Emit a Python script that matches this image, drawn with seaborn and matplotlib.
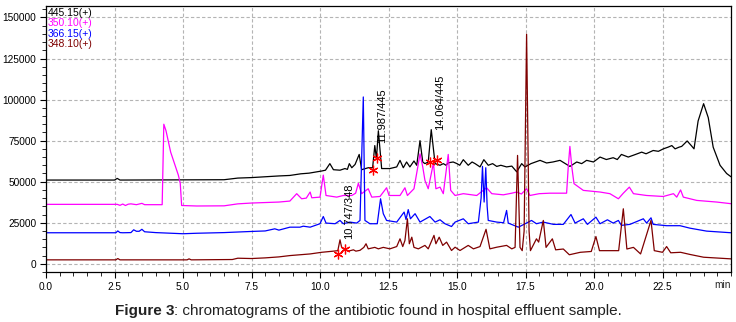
import numpy as np
import pandas as pd
import matplotlib
matplotlib.use("Agg")
import matplotlib.pyplot as plt
import seaborn as sns
from matplotlib.ticker import MultipleLocator, FixedLocator, FuncFormatter

# ---------------- data ----------------
series_names = ["445.15(+)", "350.10(+)", "366.15(+)", "348.10(+)"]
series_colors = ["#000000", "#ff00ff", "#0000ff", "#7f0000"]

t_445 = [0, 2.5, 2.6, 2.7, 6.5, 6.8, 7.0, 7.5, 8.0, 8.5, 8.9, 9.3, 9.6, 10.06, 10.2, 10.36,
         10.49, 10.73, 10.91, 11.0, 11.07, 11.16, 11.28, 11.43, 11.52, 11.76, 11.92, 12.0,
         12.06, 12.13, 12.25, 12.55, 12.8, 12.92, 13.04, 13.16, 13.28, 13.43, 13.53, 13.65,
         13.75, 13.83, 13.95, 14.06, 14.2, 14.38, 14.5, 14.6, 14.68, 14.86, 15.0, 15.1, 15.23,
         15.41, 15.55, 15.66, 15.84, 15.98, 16.14, 16.3, 16.45, 16.6, 16.81, 17.0, 17.18,
         17.36, 17.48, 17.7, 18.03, 18.27, 18.5, 18.76, 19.12, 19.37, 19.55, 19.73, 19.98,
         20.22, 20.45, 20.7, 20.85, 21.0, 21.25, 21.5, 21.74, 21.9, 22.16, 22.35, 22.53, 22.7,
         22.84, 22.96, 23.1, 23.2, 23.4, 23.55, 23.65, 23.8, 24.0, 24.17, 24.35, 24.6, 24.84, 25.0]
v_445 = [51000, 51000, 52000, 51000, 51200, 51800, 52200, 52500, 53000, 53500, 53800, 54800,
         55200, 56500, 57000, 61000, 57300, 57000, 58000, 57500, 61000, 58500, 60500, 66600,
         57300, 58500, 58500, 72000, 64000, 81000, 58000, 58000, 59000, 63000, 58500, 62000,
         59000, 62600, 60000, 75000, 62000, 61000, 62000, 81700, 61000, 60000, 61000, 60000,
         61500, 62000, 61000, 60000, 63400, 60000, 62000, 61000, 59000, 63400, 60000, 61000,
         59300, 60000, 59000, 59500, 56000, 61000, 59000, 61000, 63000, 61400, 62000, 63000,
         59300, 62000, 61000, 63000, 62000, 65000, 63500, 64600, 63500, 66600, 65000, 66500,
         68000, 67000, 69000, 68500, 70000, 71000, 72000, 70000, 71000, 71500, 74800, 72000,
         70000, 87000, 97500, 89000, 71000, 60000, 55000, 53000]

t_350 = [0, 2.6, 2.7, 2.8, 2.9, 3.0, 3.1, 3.3, 3.5, 3.6, 4.24, 4.3, 4.38, 4.55, 4.65, 4.83,
         4.9, 4.95, 5.5, 6.5, 7.0, 7.5, 8.0, 8.5, 8.9, 9.15, 9.33, 9.5, 9.64, 9.7, 10.0, 10.12,
         10.22, 10.61, 10.85, 11.16, 11.3, 11.4, 11.52, 11.76, 11.89, 12.19, 12.43, 12.52,
         12.92, 13.1, 13.19, 13.43, 13.59, 13.65, 13.75, 13.83, 13.95, 14.14, 14.23, 14.38,
         14.5, 14.68, 14.77, 14.93, 15.23, 15.72, 16.08, 16.27, 16.69, 17.0, 17.18, 17.35,
         17.54, 17.66, 18.0, 18.39, 19.0, 19.06, 19.12, 19.19, 19.27, 19.61, 20.22, 20.58,
         20.89, 21.07, 21.29, 21.44, 21.92, 22.53, 22.9, 23.02, 23.16, 23.26, 23.75, 24.48, 25.0]
v_350 = [36200, 36200, 35600, 36400, 35500, 36300, 36500, 36000, 36800, 36000, 36000, 85000,
         81000, 68000, 63000, 54000, 49000, 35500, 35200, 35300, 36500, 37000, 37300, 37600,
         38200, 42700, 39600, 40000, 43700, 40200, 40600, 54000, 41600, 40600, 41600, 41600,
         43000, 49000, 42700, 45700, 40600, 41000, 46300, 41600, 41600, 46300, 41600, 45700,
         61000, 67000, 59000, 50800, 45700, 61400, 45700, 46700, 42700, 66600, 44700, 41600,
         42700, 41600, 46300, 42700, 42000, 43000, 43700, 42500, 45700, 41600, 42700, 43000,
         43000, 59000, 71500, 59000, 48800, 44700, 43700, 42700, 39600, 43000, 46700, 42700,
         41600, 41000, 42700, 40600, 45000, 40600, 38600, 37600, 36600]

t_366 = [0, 2.55, 2.62, 2.7, 2.8, 3.1, 3.2, 3.3, 3.4, 3.5, 3.6, 4.0, 5.0, 5.5, 6.5, 7.5, 8.0,
         8.35, 8.5, 8.9, 9.27, 9.39, 9.64, 10.0, 10.12, 10.22, 10.55, 10.73, 10.85, 11.09,
         11.34, 11.46, 11.58, 11.64, 11.82, 12.09, 12.21, 12.31, 12.43, 12.8, 13.07, 13.14,
         13.22, 13.3, 13.47, 13.65, 14.01, 14.2, 14.38, 14.56, 14.8, 14.93, 15.23, 15.41,
         15.78, 15.88, 15.93, 15.99, 16.05, 16.1, 16.14, 16.45, 16.7, 16.81, 16.87, 17.24,
         17.5, 17.72, 17.9, 18.15, 18.52, 18.88, 19.16, 19.31, 19.61, 19.76, 20.07, 20.22,
         20.49, 20.7, 20.89, 21.0, 21.31, 21.8, 21.92, 22.08, 22.16, 22.65, 23.14, 23.5, 24.11, 25.0]
v_366 = [18900, 18900, 20000, 19000, 18900, 19000, 20700, 19800, 19800, 21000, 19500, 19000,
         18300, 18600, 19000, 19700, 20000, 21300, 20500, 22300, 22300, 22900, 22300, 24400,
         28800, 24800, 24400, 26400, 24400, 25400, 24800, 26400, 101600, 26400, 24400, 24400,
         39600, 30500, 26400, 25400, 31500, 27000, 33000, 27400, 30500, 25400, 28800, 25400,
         26800, 24400, 22700, 25400, 27400, 24400, 25400, 40000, 59300, 37600, 58500, 35000,
         26400, 25400, 25000, 32500, 24800, 22300, 24500, 26400, 24400, 25400, 24000, 24000,
         30000, 24800, 27400, 24000, 28400, 24400, 26800, 24800, 26400, 23400, 24000, 27400,
         24800, 28000, 24000, 23200, 23200, 21700, 19900, 18900]

t_348 = [0, 2.55, 2.62, 2.7, 5.15, 5.22, 5.3, 6.8, 7.0, 7.5, 8.0, 8.5, 8.9, 9.64, 10.06,
         10.49, 10.65, 10.73, 10.79, 10.85, 11.03, 11.22, 11.31, 11.46, 11.6, 11.68, 11.76,
         12.0, 12.13, 12.31, 12.55, 12.8, 12.92, 13.02, 13.1, 13.19, 13.26, 13.35, 13.43,
         13.59, 13.83, 13.95, 14.16, 14.23, 14.35, 14.48, 14.62, 14.8, 14.93, 15.11, 15.41,
         15.6, 15.84, 16.06, 16.2, 16.45, 16.81, 17.0, 17.12, 17.21, 17.3, 17.38, 17.45, 17.54,
         17.63, 17.68, 17.9, 17.98, 18.15, 18.25, 18.48, 18.6, 18.88, 19.1, 19.5, 19.9, 20.07,
         20.2, 20.5, 20.9, 21.07, 21.2, 21.44, 21.7, 22.08, 22.2, 22.5, 22.65, 22.8, 23.16,
         23.5, 24.0, 25.0]
v_348 = [2400, 2400, 3200, 2400, 2400, 3000, 2400, 2600, 3400, 3200, 3600, 4200, 5000, 6000,
         7000, 7700, 8000, 14600, 10000, 9100, 7700, 8500, 7700, 8200, 10000, 12200, 9100,
         10000, 9100, 10000, 9100, 10500, 15200, 10500, 14200, 27400, 12200, 16200, 10000,
         9100, 11200, 9100, 17300, 12200, 16200, 11200, 13200, 8100, 10100, 8100, 11200, 9100,
         10500, 21000, 9100, 10100, 11200, 9100, 10000, 66000, 10000, 8000, 20000, 139800,
         20000, 8000, 15200, 13200, 26400, 10000, 15200, 8500, 9000, 5500, 7000, 7500, 16600,
         8000, 8000, 8000, 33500, 9000, 10000, 6000, 26400, 8000, 7000, 10500, 6700, 7000,
         5700, 4000, 3000]

x_ticks = [0.0, 2.5, 5.0, 7.5, 10.0, 12.5, 15.0, 17.5, 20.0, 22.5]
y_ticks = [0, 25000, 50000, 75000, 100000, 125000, 150000]

peak_labels = ["10.747/348", "11.987/445", "14.064/445"]
peak_label_t = [11.06, 12.26, 14.38]
peak_label_v = [15400, 73400, 81300]
marker_t = [10.67, 10.91, 11.95, 12.09, 14.01, 14.26]
marker_v = [5700, 9100, 56900, 64600, 62000, 63000]

# ---------------- figure ----------------
sns.set_style("white")
plt.rcParams["font.family"] = ["Liberation Sans", "DejaVu Sans"]

fig = plt.figure(figsize=(7.36, 3.22), dpi=100)
ax = fig.add_axes([46 / 736, 50 / 322, 685 / 736, 266 / 322])

frames = []
for name, t, v in zip(series_names, [t_445, t_350, t_366, t_348], [v_445, v_350, v_366, v_348]):
    frames.append(pd.DataFrame({"time": t, "intensity": v, "ion": name}))
df = pd.concat(frames, ignore_index=True)

sns.lineplot(data=df, x="time", y="intensity", hue="ion", hue_order=series_names,
             palette=dict(zip(series_names, series_colors)), estimator=None, sort=False,
             legend=False, lw=0.9, ax=ax)

ax.plot(marker_t, marker_v, ls="none", marker=(6, 2, 0), ms=7, mec="red", mew=0.9, zorder=5)
for lab, tt, vv in zip(peak_labels, peak_label_t, peak_label_v):
    ax.text(tt, vv, lab, rotation=90, ha="center", va="bottom", fontsize=8, color="black")

ax.set_xlim(0, 25)
ax.set_ylim(-5000, 157000)
ax.xaxis.set_major_locator(FixedLocator(x_ticks))
ax.xaxis.set_minor_locator(MultipleLocator(0.5))
ax.yaxis.set_major_locator(FixedLocator(y_ticks))
ax.yaxis.set_minor_locator(MultipleLocator(5000))
ax.xaxis.set_major_formatter(FuncFormatter(lambda x, p: f"{x:.1f}"))
ax.yaxis.set_major_formatter(FuncFormatter(lambda y, p: f"{int(y)}"))
ax.tick_params(which="major", direction="out", length=4, width=0.8, labelsize=7.3,
               pad=3, colors="black")
ax.tick_params(which="minor", direction="out", length=3, width=0.7)
ax.tick_params(axis="x", which="both", bottom=True)
ax.tick_params(axis="y", which="both", left=True)
ax.set_xlabel("")
ax.set_ylabel("")
ax.grid(True, which="major", ls=(0, (3, 2)), color="#b4b4b4", lw=0.8)
ax.set_axisbelow(True)
for s in ax.spines.values():
    s.set_color("black")
    s.set_linewidth(0.9)

legend_y = [0.975, 0.936, 0.896, 0.857]
for name, c, yy in zip(series_names, series_colors, legend_y):
    ax.text(0.002, yy, name, color=c, fontsize=7.5, va="center", ha="left",
            transform=ax.transAxes)

fig.text(731 / 736, 1 - 285 / 322, "min", ha="right", va="center", fontsize=7.3)

t1 = fig.text(115 / 736, 1 - 311 / 322, "Figure 3", fontsize=11, weight="bold",
              ha="left", va="center", color="#222222")
ax.annotate(": chromatograms of the antibiotic found in hospital effluent sample.",
            xy=(1, 0), xycoords=t1, va="bottom", ha="left", fontsize=11,
            color="#222222", annotation_clip=False)

fig.savefig("out.png", dpi=100)
